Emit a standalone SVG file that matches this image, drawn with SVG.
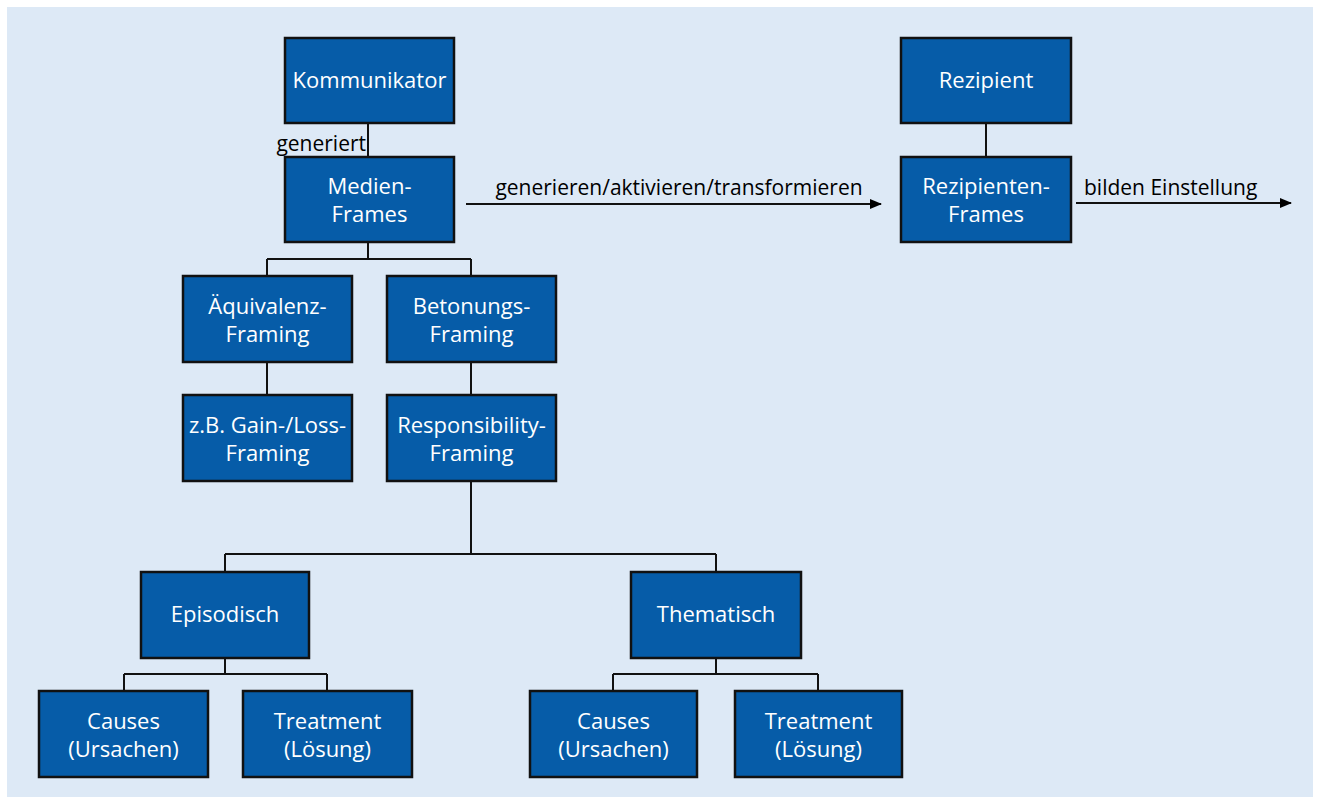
<svg xmlns="http://www.w3.org/2000/svg" width="1321" height="803" viewBox="0 0 1321 803">
<defs>
<style>
.box{fill:#065ca8;stroke:#111;stroke-width:2.5}
.t{font-family:"Open Sans","Noto Sans",sans-serif;font-size:22px;font-weight:500;fill:#fff;text-anchor:middle}
.l{font-family:"Open Sans","Noto Sans",sans-serif;font-size:21px;font-weight:500;fill:#000}
.c{stroke:#111;stroke-width:2;fill:none}
</style>
<marker id="arr" markerWidth="12" markerHeight="10" refX="11" refY="5" orient="auto" markerUnits="userSpaceOnUse">
<path d="M0,0 L12,5 L0,10 Z" fill="#000"/>
</marker>
</defs>
<rect x="0" y="0" width="1321" height="803" fill="#fff"/>
<rect x="7" y="7" width="1306" height="790" fill="#dde9f6"/>
<g id="connectors">
<path class="c" d="M368,123 V157"/>
<path class="c" d="M368,241 V259 M267,259 H471 M267,259 V276 M471,259 V276"/>
<path class="c" d="M267,362 V395 M471,362 V395"/>
<path class="c" d="M471,481 V554 M225,554 H716 M225,554 V572 M716,554 V572"/>
<path class="c" d="M225,658 V674 M124,674 H327 M124,674 V691 M327,674 V691"/>
<path class="c" d="M716,658 V674 M613,674 H818 M613,674 V691 M818,674 V691"/>
<path class="c" d="M986,123 V157"/>
<path class="c" d="M466,204 H881" marker-end="url(#arr)"/>
<path class="c" d="M1076,203 H1291" marker-end="url(#arr)"/>
<text class="l" x="366" y="151" text-anchor="end">generiert</text>
<text class="l" x="679" y="195" text-anchor="middle">generieren/aktivieren/transformieren</text>
<text class="l" x="1084" y="195">bilden Einstellung</text>
</g>
<g id="kommunikator"><rect class="box" x="285" y="38" width="169" height="85"/><text class="t" x="369.5" y="88">Kommunikator</text></g>
<g id="medien-frames"><rect class="box" x="285" y="157" width="169" height="85"/><text class="t" x="369.5" y="194">Medien-</text><text class="t" x="369.5" y="222">Frames</text></g>
<g id="rezipient"><rect class="box" x="901" y="38" width="170" height="85"/><text class="t" x="986" y="88">Rezipient</text></g>
<g id="rezipienten-frames"><rect class="box" x="901" y="157" width="170" height="85"/><text class="t" x="986" y="194">Rezipienten-</text><text class="t" x="986" y="222">Frames</text></g>
<g id="aequivalenz"><rect class="box" x="183" y="276" width="169" height="86"/><text class="t" x="267.5" y="314">Äquivalenz-</text><text class="t" x="267.5" y="342">Framing</text></g>
<g id="betonungs"><rect class="box" x="387" y="276" width="169" height="86"/><text class="t" x="471.5" y="314">Betonungs-</text><text class="t" x="471.5" y="342">Framing</text></g>
<g id="gain-loss"><rect class="box" x="183" y="395" width="169" height="86"/><text class="t" x="267.5" y="433">z.B. Gain-/Loss-</text><text class="t" x="267.5" y="461">Framing</text></g>
<g id="responsibility"><rect class="box" x="387" y="395" width="169" height="86"/><text class="t" x="471.5" y="433">Responsibility-</text><text class="t" x="471.5" y="461">Framing</text></g>
<g id="episodisch"><rect class="box" x="141" y="572" width="168" height="86"/><text class="t" x="225" y="622">Episodisch</text></g>
<g id="thematisch"><rect class="box" x="631" y="572" width="170" height="86"/><text class="t" x="716" y="622">Thematisch</text></g>
<g id="causes-1"><rect class="box" x="39" y="691" width="169" height="86"/><text class="t" x="123.5" y="729">Causes</text><text class="t" x="123.5" y="757">(Ursachen)</text></g>
<g id="treatment-1"><rect class="box" x="243" y="691" width="169" height="86"/><text class="t" x="327.5" y="729">Treatment</text><text class="t" x="327.5" y="757">(Lösung)</text></g>
<g id="causes-2"><rect class="box" x="530" y="691" width="167" height="86"/><text class="t" x="613.5" y="729">Causes</text><text class="t" x="613.5" y="757">(Ursachen)</text></g>
<g id="treatment-2"><rect class="box" x="735" y="691" width="167" height="86"/><text class="t" x="818.5" y="729">Treatment</text><text class="t" x="818.5" y="757">(Lösung)</text></g>
</svg>
